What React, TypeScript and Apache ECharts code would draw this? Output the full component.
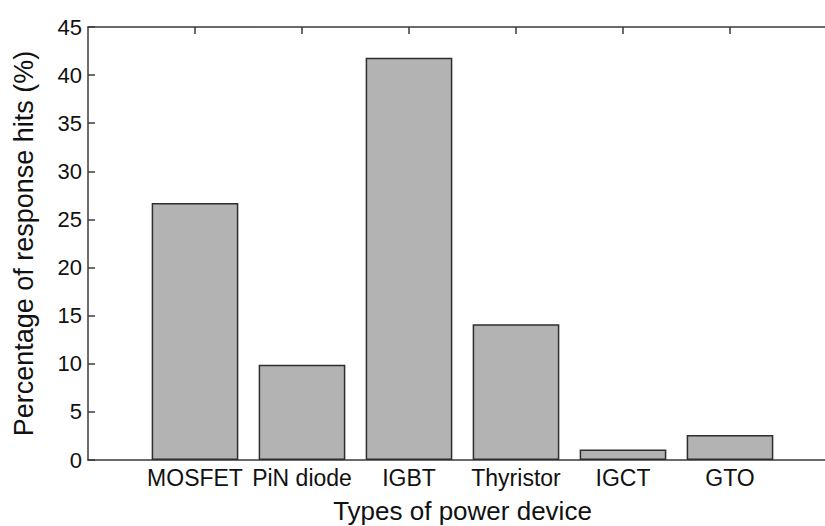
import React, { useEffect, useRef } from "react";
import * as echarts from "echarts";

const categories = ["", "MOSFET", "PiN diode", "IGBT", "Thyristor", "IGCT", "GTO", ""];
const hits = [null, 26.7, 9.9, 41.8, 14.1, 1.1, 2.6, null];
const yTicks = { min: 0, max: 45, interval: 5 };
const xTitle = "Types of power device";
const yTitle = "Percentage of response hits (%)";

const FONT = "'Liberation Sans', Arial, Helvetica, sans-serif";
const AXIS_COLOR = "#3a3a3a";

export default function App() {
  const ref = useRef<HTMLDivElement>(null);
  useEffect(() => {
    if (!ref.current) return;
    const chart = echarts.init(ref.current, undefined, { renderer: "svg" });
    chart.setOption({
      animation: false,
      backgroundColor: "#ffffff",
      textStyle: { fontFamily: FONT },
      grid: { left: 88, top: 27, bottom: 66, right: -12, containLabel: false, outerBoundsMode: "none" },
      xAxis: [
        {
          type: "category",
          data: categories,
          boundaryGap: false,
          position: "bottom",
          axisLine: { show: true, lineStyle: { color: AXIS_COLOR, width: 1.5 } },
          axisTick: { show: false },
          axisLabel: { color: "#111", fontSize: 23, fontFamily: FONT, margin: 6, interval: 0 },
          splitLine: { show: false },
          name: xTitle,
          nameLocation: "middle",
          nameGap: 38,
          nameTextStyle: { color: "#111", fontSize: 26, fontFamily: FONT },
        },
        {
          type: "category",
          data: categories,
          boundaryGap: false,
          position: "top",
          axisLine: { show: true, lineStyle: { color: AXIS_COLOR, width: 1.5 } },
          axisTick: {
            show: true,
            inside: true,
            length: 7,
            interval: (i: number) => i > 0 && i < categories.length - 1,
            lineStyle: { color: AXIS_COLOR, width: 1.5 },
          },
          axisLabel: { show: false },
          splitLine: { show: false },
        },
      ],
      yAxis: {
        type: "value",
        min: yTicks.min,
        max: yTicks.max,
        interval: yTicks.interval,
        axisLine: { show: true, lineStyle: { color: AXIS_COLOR, width: 1.5 } },
        axisTick: { show: true, inside: true, length: 7, lineStyle: { color: AXIS_COLOR, width: 1.5 } },
        axisLabel: { color: "#111", fontSize: 22, fontFamily: FONT, margin: 6 },
        splitLine: { show: false },
        name: yTitle,
        nameLocation: "middle",
        nameGap: 51,
        nameTextStyle: { color: "#111", fontSize: 27, fontFamily: FONT },
      },
      series: [
        {
          type: "bar",
          data: hits,
          xAxisIndex: 0,
          barWidth: "81%",
          itemStyle: { color: "#b3b3b3", borderColor: "#2e2e2e", borderWidth: 1.5 },
        },
      ],
    });
    return () => chart.dispose();
  }, []);
  return (
    <div
      ref={ref}
      style={{ position: "fixed", left: 0, top: 0, width: 825, height: 526, background: "#fff" }}
    />
  );
}
